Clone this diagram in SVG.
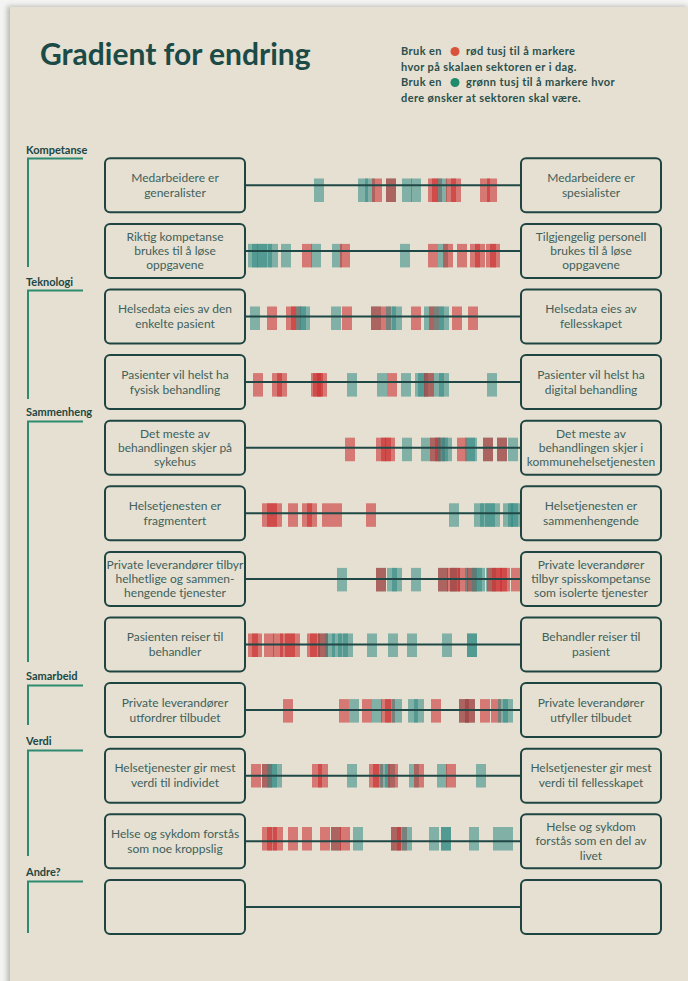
<svg xmlns="http://www.w3.org/2000/svg" width="688" height="981" viewBox="0 0 688 981">
  <defs>
    <filter id="soft" x="-5%" y="-5%" width="110%" height="110%">
      <feGaussianBlur stdDeviation="2.5"/>
    </filter>
    <style>
      .paper { fill: #e5e0d1; }
      .title { font-family: Lato, "Open Sans", sans-serif; font-weight: 700; font-size: 30px; fill: #1c4a47; }
      .legend { font-family: Lato, "Open Sans", sans-serif; font-weight: 700; font-size: 11px; letter-spacing: 0.4px; fill: #2b4f4c; }
      .sec { font-family: Lato, "Open Sans", sans-serif; font-weight: 700; font-size: 11px; fill: #1d4744; }
      .bracket { fill: none; stroke: #2f8a72; stroke-width: 2; }
      .box { fill: none; stroke: #1f4543; stroke-width: 2; }
      .lbl { font-family: Lato, "Open Sans", sans-serif; font-size: 12px; fill: #3f605c; text-anchor: middle; }
      .scale { stroke: #1f4846; stroke-width: 2; }
      .r { fill: #cc2d2f; fill-opacity: 0.58; }
      .t { fill: #2e8884; fill-opacity: 0.55; }
    </style>
  </defs>

  <!-- sheet with a soft drop shadow -->
  <rect width="688" height="981" fill="#f4f4f2"/>
  <rect x="7" y="6" width="680" height="985" fill="#8a8a86" filter="url(#soft)" opacity="0.55"/>
  <rect class="paper" x="10" y="7" width="678" height="974"/>

  <!-- heading and instructions -->
  <text class="title" x="40" y="65">Gradient for endring</text>
  <g id="legend">
    <text class="legend" x="401" y="55">Bruk en</text>
    <circle cx="455" cy="51.5" r="4.5" fill="#d9533b"/>
    <text class="legend" x="466" y="55">rød tusj til å markere</text>
    <text class="legend" x="401" y="71">hvor på skalaen sektoren er i dag.</text>
    <text class="legend" x="401" y="86">Bruk en</text>
    <circle cx="455" cy="82.5" r="4.5" fill="#1f8a6c"/>
    <text class="legend" x="466" y="86">grønn tusj til å markere hvor</text>
    <text class="legend" x="401" y="102">dere ønsker at sektoren skal være.</text>
  </g>

  <!-- section headings with brackets -->
  <g id="sections">
    <text class="sec" x="26" y="154">Kompetanse</text>
    <path class="bracket" d="M83 158.5 H28 V267"/>
    <text class="sec" x="26" y="286">Teknologi</text>
    <path class="bracket" d="M83 290.5 H28 V399"/>
    <text class="sec" x="26" y="416">Sammenheng</text>
    <path class="bracket" d="M83 421.5 H28 V662"/>
    <text class="sec" x="26" y="680">Samarbeid</text>
    <path class="bracket" d="M83 685.5 H28 V725"/>
    <text class="sec" x="26" y="745">Verdi</text>
    <path class="bracket" d="M83 750.5 H28 V856"/>
    <text class="sec" x="26" y="876">Andre?</text>
    <path class="bracket" d="M83 881.5 H28 V933"/>
  </g>

  <!-- marker strokes on each scale -->
  <g id="marks">
    <g transform="translate(0,178.5)">
      <rect class="t" x="314" width="10" height="23.5"/><rect class="t" x="358" width="10" height="23.5"/><rect class="t" x="365" width="10" height="23.5"/><rect class="r" x="372" width="10" height="23.5"/><rect class="t" x="386" width="10" height="23.5"/><rect class="r" x="386" width="10" height="23.5"/><rect class="t" x="402" width="10" height="23.5"/><rect class="t" x="411" width="10" height="23.5"/><rect class="r" x="428" width="10" height="23.5"/><rect class="r" x="432" width="10" height="23.5"/><rect class="t" x="437" width="10" height="23.5"/><rect class="r" x="446" width="10" height="23.5"/><rect class="r" x="451" width="10" height="23.5"/><rect class="r" x="480" width="10" height="23.5"/><rect class="r" x="487" width="10" height="23.5"/>
    </g>
    <g transform="translate(0,243.9)">
      <rect class="t" x="248" width="10" height="23.5"/><rect class="t" x="252" width="10" height="23.5"/><rect class="t" x="257" width="10" height="23.5"/><rect class="t" x="262" width="10" height="23.5"/><rect class="t" x="268" width="10" height="23.5"/><rect class="t" x="281" width="10" height="23.5"/><rect class="r" x="302" width="10" height="23.5"/><rect class="t" x="311" width="10" height="23.5"/><rect class="t" x="332" width="10" height="23.5"/><rect class="r" x="340" width="10" height="23.5"/><rect class="t" x="400" width="10" height="23.5"/><rect class="r" x="428" width="10" height="23.5"/><rect class="t" x="438" width="10" height="23.5"/><rect class="r" x="443" width="10" height="23.5"/><rect class="r" x="457" width="10" height="23.5"/><rect class="r" x="470" width="10" height="23.5"/><rect class="r" x="475" width="10" height="23.5"/><rect class="r" x="486" width="10" height="23.5"/><rect class="r" x="490" width="10" height="23.5"/>
    </g>
    <g transform="translate(0,306.5)">
      <rect class="t" x="250" width="10" height="23.5"/><rect class="r" x="267" width="10" height="23.5"/><rect class="r" x="286" width="10" height="23.5"/><rect class="r" x="291" width="10" height="23.5"/><rect class="t" x="296" width="10" height="23.5"/><rect class="t" x="300" width="10" height="23.5"/><rect class="t" x="331" width="10" height="23.5"/><rect class="r" x="342" width="10" height="23.5"/><rect class="t" x="371" width="10" height="23.5"/><rect class="r" x="371" width="10" height="23.5"/><rect class="r" x="381" width="10" height="23.5"/><rect class="t" x="386" width="10" height="23.5"/><rect class="t" x="392" width="10" height="23.5"/><rect class="r" x="411" width="10" height="23.5"/><rect class="t" x="424" width="10" height="23.5"/><rect class="r" x="429" width="10" height="23.5"/><rect class="t" x="434" width="10" height="23.5"/><rect class="t" x="439" width="10" height="23.5"/><rect class="r" x="452" width="10" height="23.5"/><rect class="r" x="468" width="10" height="23.5"/>
    </g>
    <g transform="translate(0,373.1)">
      <rect class="r" x="253" width="10" height="23.5"/><rect class="r" x="272" width="10" height="23.5"/><rect class="r" x="277" width="10" height="23.5"/><rect class="r" x="311" width="10" height="23.5"/><rect class="r" x="313" width="10" height="23.5"/><rect class="r" x="317" width="10" height="23.5"/><rect class="t" x="347" width="10" height="23.5"/><rect class="t" x="377" width="10" height="23.5"/><rect class="r" x="387" width="10" height="23.5"/><rect class="t" x="401" width="10" height="23.5"/><rect class="t" x="415" width="10" height="23.5"/><rect class="t" x="418" width="10" height="23.5"/><rect class="t" x="424" width="10" height="23.5"/><rect class="r" x="424" width="10" height="23.5"/><rect class="t" x="434" width="10" height="23.5"/><rect class="t" x="439" width="10" height="23.5"/><rect class="t" x="487" width="10" height="23.5"/>
    </g>
    <g transform="translate(0,437.7)">
      <rect class="r" x="345" width="10" height="23.5"/><rect class="r" x="376" width="10" height="23.5"/><rect class="r" x="381" width="10" height="23.5"/><rect class="r" x="385" width="10" height="23.5"/><rect class="t" x="402" width="10" height="23.5"/><rect class="t" x="421" width="10" height="23.5"/><rect class="t" x="431" width="10" height="23.5"/><rect class="r" x="430" width="10" height="23.5"/><rect class="r" x="435" width="10" height="23.5"/><rect class="t" x="438" width="10" height="23.5"/><rect class="t" x="442" width="10" height="23.5"/><rect class="r" x="457" width="10" height="23.5"/><rect class="t" x="465" width="10" height="23.5"/><rect class="t" x="467" width="10" height="23.5"/><rect class="t" x="483" width="10" height="23.5"/><rect class="r" x="483" width="10" height="23.5"/><rect class="t" x="497" width="10" height="23.5"/><rect class="r" x="497" width="10" height="23.5"/><rect class="t" x="508" width="10" height="23.5"/>
    </g>
    <g transform="translate(0,503.3)">
      <rect class="r" x="262" width="10" height="23.5"/><rect class="r" x="267" width="10" height="23.5"/><rect class="r" x="272" width="10" height="23.5"/><rect class="r" x="288" width="10" height="23.5"/><rect class="r" x="302" width="10" height="23.5"/><rect class="r" x="307" width="10" height="23.5"/><rect class="r" x="322" width="10" height="23.5"/><rect class="r" x="332" width="10" height="23.5"/><rect class="r" x="366" width="10" height="23.5"/><rect class="t" x="449" width="10" height="23.5"/><rect class="t" x="474" width="10" height="23.5"/><rect class="t" x="480" width="10" height="23.5"/><rect class="t" x="485" width="10" height="23.5"/><rect class="t" x="490" width="10" height="23.5"/><rect class="t" x="503" width="10" height="23.5"/><rect class="t" x="508" width="10" height="23.5"/><rect class="t" x="511" width="10" height="23.5"/>
    </g>
    <g transform="translate(0,567.9)">
      <rect class="t" x="337" width="10" height="23.5"/><rect class="t" x="376" width="10" height="23.5"/><rect class="r" x="376" width="10" height="23.5"/><rect class="t" x="387" width="10" height="23.5"/><rect class="t" x="392" width="10" height="23.5"/><rect class="t" x="411" width="10" height="23.5"/><rect class="t" x="438" width="10" height="23.5"/><rect class="r" x="438" width="10" height="23.5"/><rect class="r" x="447" width="10" height="23.5"/><rect class="t" x="450" width="10" height="23.5"/><rect class="r" x="450" width="10" height="23.5"/><rect class="r" x="458" width="10" height="23.5"/><rect class="t" x="465" width="10" height="23.5"/><rect class="r" x="467" width="10" height="23.5"/><rect class="t" x="472" width="10" height="23.5"/><rect class="t" x="475" width="10" height="23.5"/><rect class="t" x="486" width="10" height="23.5"/><rect class="r" x="487" width="10" height="23.5"/><rect class="r" x="492" width="10" height="23.5"/><rect class="r" x="497" width="10" height="23.5"/><rect class="r" x="500" width="10" height="23.5"/><rect class="r" x="511" width="10" height="23.5"/>
    </g>
    <g transform="translate(0,633.5)">
      <rect class="r" x="248" width="10" height="23.5"/><rect class="r" x="252" width="10" height="23.5"/><rect class="r" x="264" width="10" height="23.5"/><rect class="r" x="273" width="10" height="23.5"/><rect class="r" x="280" width="10" height="23.5"/><rect class="r" x="285" width="10" height="23.5"/><rect class="r" x="290" width="10" height="23.5"/><rect class="r" x="307" width="10" height="23.5"/><rect class="r" x="310" width="10" height="23.5"/><rect class="t" x="318" width="10" height="23.5"/><rect class="r" x="318" width="10" height="23.5"/><rect class="t" x="325" width="10" height="23.5"/><rect class="t" x="332" width="10" height="23.5"/><rect class="t" x="338" width="10" height="23.5"/><rect class="t" x="343" width="10" height="23.5"/><rect class="t" x="367" width="10" height="23.5"/><rect class="t" x="388" width="10" height="23.5"/><rect class="t" x="407" width="10" height="23.5"/><rect class="t" x="442" width="10" height="23.5"/><rect class="t" x="467" width="10" height="23.5"/><rect class="t" x="467" width="10" height="23.5"/>
    </g>
    <g transform="translate(0,699.1)">
      <rect class="r" x="283" width="10" height="23.5"/><rect class="r" x="339" width="10" height="23.5"/><rect class="t" x="349" width="10" height="23.5"/><rect class="r" x="362" width="10" height="23.5"/><rect class="t" x="372" width="10" height="23.5"/><rect class="r" x="381" width="10" height="23.5"/><rect class="r" x="385" width="10" height="23.5"/><rect class="t" x="392" width="10" height="23.5"/><rect class="t" x="408" width="10" height="23.5"/><rect class="t" x="414" width="10" height="23.5"/><rect class="r" x="431" width="10" height="23.5"/><rect class="t" x="459" width="10" height="23.5"/><rect class="r" x="459" width="10" height="23.5"/><rect class="t" x="465" width="10" height="23.5"/><rect class="r" x="465" width="10" height="23.5"/><rect class="r" x="480" width="10" height="23.5"/><rect class="r" x="491" width="10" height="23.5"/><rect class="t" x="498" width="10" height="23.5"/><rect class="t" x="503" width="10" height="23.5"/>
    </g>
    <g transform="translate(0,764)">
      <rect class="r" x="251" width="10" height="23.5"/><rect class="t" x="262" width="10" height="23.5"/><rect class="r" x="262" width="10" height="23.5"/><rect class="t" x="267" width="10" height="23.5"/><rect class="t" x="272" width="10" height="23.5"/><rect class="r" x="312" width="10" height="23.5"/><rect class="r" x="318" width="10" height="23.5"/><rect class="t" x="347" width="10" height="23.5"/><rect class="r" x="369" width="10" height="23.5"/><rect class="r" x="373" width="10" height="23.5"/><rect class="t" x="380" width="10" height="23.5"/><rect class="t" x="385" width="10" height="23.5"/><rect class="r" x="388" width="10" height="23.5"/><rect class="t" x="409" width="10" height="23.5"/><rect class="r" x="414" width="10" height="23.5"/><rect class="t" x="437" width="10" height="23.5"/><rect class="r" x="446" width="10" height="23.5"/><rect class="t" x="476" width="10" height="23.5"/>
    </g>
    <g transform="translate(0,827)">
      <rect class="r" x="262" width="10" height="23.5"/><rect class="r" x="267" width="10" height="23.5"/><rect class="r" x="273" width="10" height="23.5"/><rect class="r" x="288" width="10" height="23.5"/><rect class="r" x="302" width="10" height="23.5"/><rect class="r" x="320" width="10" height="23.5"/><rect class="t" x="331" width="10" height="23.5"/><rect class="r" x="331" width="10" height="23.5"/><rect class="r" x="340" width="10" height="23.5"/><rect class="t" x="353" width="10" height="23.5"/><rect class="t" x="391" width="10" height="23.5"/><rect class="r" x="391" width="10" height="23.5"/><rect class="r" x="397" width="10" height="23.5"/><rect class="t" x="402" width="10" height="23.5"/><rect class="t" x="429" width="10" height="23.5"/><rect class="t" x="441" width="10" height="23.5"/><rect class="t" x="441" width="10" height="23.5"/><rect class="t" x="469" width="10" height="23.5"/><rect class="t" x="493" width="10" height="23.5"/><rect class="t" x="503" width="10" height="23.5"/>
    </g>
  </g>

  <!-- scale lines joining each pair of statements -->
  <g id="connectors">
    <line class="scale" x1="245" y1="185.3" x2="521" y2="185.3"/>
    <line class="scale" x1="245" y1="250.9" x2="521" y2="250.9"/>
    <line class="scale" x1="245" y1="316.5" x2="521" y2="316.5"/>
    <line class="scale" x1="245" y1="382.1" x2="521" y2="382.1"/>
    <line class="scale" x1="245" y1="447.7" x2="521" y2="447.7"/>
    <line class="scale" x1="245" y1="513.3" x2="521" y2="513.3"/>
    <line class="scale" x1="245" y1="578.9" x2="521" y2="578.9"/>
    <line class="scale" x1="245" y1="644.5" x2="521" y2="644.5"/>
    <line class="scale" x1="245" y1="710.1" x2="521" y2="710.1"/>
    <line class="scale" x1="245" y1="775.7" x2="521" y2="775.7"/>
    <line class="scale" x1="245" y1="841.3" x2="521" y2="841.3"/>
    <line class="scale" x1="245" y1="906.9" x2="521" y2="906.9"/>
  </g>

  <!-- statement boxes, left and right end of each scale -->
  <g id="l1"><rect class="box" x="105" y="158.3" width="140" height="54" rx="5"/><text class="lbl" x="175" y="181.8">Medarbeidere er</text><text class="lbl" x="175" y="197">generalister</text></g>
  <g id="r1"><rect class="box" x="521" y="158.3" width="140" height="54" rx="5"/><text class="lbl" x="591" y="181.8">Medarbeidere er</text><text class="lbl" x="591" y="197">spesialister</text></g>

  <g id="l2"><rect class="box" x="105" y="223.9" width="140" height="54" rx="5"/><text class="lbl" x="175" y="240.9">Riktig kompetanse</text><text class="lbl" x="175" y="255">brukes til å løse</text><text class="lbl" x="175" y="269.1">oppgavene</text></g>
  <g id="r2"><rect class="box" x="521" y="223.9" width="140" height="54" rx="5"/><text class="lbl" x="591" y="240.9">Tilgjengelig personell</text><text class="lbl" x="591" y="255">brukes til å løse</text><text class="lbl" x="591" y="269.1">oppgavene</text></g>

  <g id="l3"><rect class="box" x="105" y="289.5" width="140" height="54" rx="5"/><text class="lbl" x="175" y="313">Helsedata eies av den</text><text class="lbl" x="175" y="328.2">enkelte pasient</text></g>
  <g id="r3"><rect class="box" x="521" y="289.5" width="140" height="54" rx="5"/><text class="lbl" x="591" y="313">Helsedata eies av</text><text class="lbl" x="591" y="328.2">fellesskapet</text></g>

  <g id="l4"><rect class="box" x="105" y="355.1" width="140" height="54" rx="5"/><text class="lbl" x="175" y="378.6">Pasienter vil helst ha</text><text class="lbl" x="175" y="393.8">fysisk behandling</text></g>
  <g id="r4"><rect class="box" x="521" y="355.1" width="140" height="54" rx="5"/><text class="lbl" x="591" y="378.6">Pasienter vil helst ha</text><text class="lbl" x="591" y="393.8">digital behandling</text></g>

  <g id="l5"><rect class="box" x="105" y="420.7" width="140" height="54" rx="5"/><text class="lbl" x="175" y="437.7">Det meste av</text><text class="lbl" x="175" y="451.8">behandlingen skjer på</text><text class="lbl" x="175" y="465.9">sykehus</text></g>
  <g id="r5"><rect class="box" x="521" y="420.7" width="140" height="54" rx="5"/><text class="lbl" x="591" y="437.7">Det meste av</text><text class="lbl" x="591" y="451.8">behandlingen skjer i</text><text class="lbl" x="591" y="465.9">kommunehelsetjenesten</text></g>

  <g id="l6"><rect class="box" x="105" y="486.3" width="140" height="54" rx="5"/><text class="lbl" x="175" y="509.8">Helsetjenesten er</text><text class="lbl" x="175" y="525">fragmentert</text></g>
  <g id="r6"><rect class="box" x="521" y="486.3" width="140" height="54" rx="5"/><text class="lbl" x="591" y="509.8">Helsetjenesten er</text><text class="lbl" x="591" y="525">sammenhengende</text></g>

  <g id="l7"><rect class="box" x="105" y="551.9" width="140" height="54" rx="5"/><text class="lbl" x="175" y="568.9">Private leverandører tilbyr</text><text class="lbl" x="175" y="583">helhetlige og sammen-</text><text class="lbl" x="175" y="597.1">hengende tjenester</text></g>
  <g id="r7"><rect class="box" x="521" y="551.9" width="140" height="54" rx="5"/><text class="lbl" x="591" y="568.9">Private leverandører</text><text class="lbl" x="591" y="583">tilbyr spisskompetanse</text><text class="lbl" x="591" y="597.1">som isolerte tjenester</text></g>

  <g id="l8"><rect class="box" x="105" y="617.5" width="140" height="54" rx="5"/><text class="lbl" x="175" y="641">Pasienten reiser til</text><text class="lbl" x="175" y="656.2">behandler</text></g>
  <g id="r8"><rect class="box" x="521" y="617.5" width="140" height="54" rx="5"/><text class="lbl" x="591" y="641">Behandler reiser til</text><text class="lbl" x="591" y="656.2">pasient</text></g>

  <g id="l9"><rect class="box" x="105" y="683.1" width="140" height="54" rx="5"/><text class="lbl" x="175" y="706.6">Private leverandører</text><text class="lbl" x="175" y="721.8">utfordrer tilbudet</text></g>
  <g id="r9"><rect class="box" x="521" y="683.1" width="140" height="54" rx="5"/><text class="lbl" x="591" y="706.6">Private leverandører</text><text class="lbl" x="591" y="721.8">utfyller tilbudet</text></g>

  <g id="l10"><rect class="box" x="105" y="748.7" width="140" height="54" rx="5"/><text class="lbl" x="175" y="772.2">Helsetjenester gir mest</text><text class="lbl" x="175" y="787.4">verdi til individet</text></g>
  <g id="r10"><rect class="box" x="521" y="748.7" width="140" height="54" rx="5"/><text class="lbl" x="591" y="772.2">Helsetjenester gir mest</text><text class="lbl" x="591" y="787.4">verdi til fellesskapet</text></g>

  <g id="l11"><rect class="box" x="105" y="814.3" width="140" height="54" rx="5"/><text class="lbl" x="175" y="837.8">Helse og sykdom forstås</text><text class="lbl" x="175" y="853">som noe kroppslig</text></g>
  <g id="r11"><rect class="box" x="521" y="814.3" width="140" height="54" rx="5"/><text class="lbl" x="591" y="831.3">Helse og sykdom</text><text class="lbl" x="591" y="845.4">forstås som en del av</text><text class="lbl" x="591" y="859.5">livet</text></g>

  <g id="l12"><rect class="box" x="105" y="879.9" width="140" height="54" rx="5"/></g>
  <g id="r12"><rect class="box" x="521" y="879.9" width="140" height="54" rx="5"/></g>
</svg>
